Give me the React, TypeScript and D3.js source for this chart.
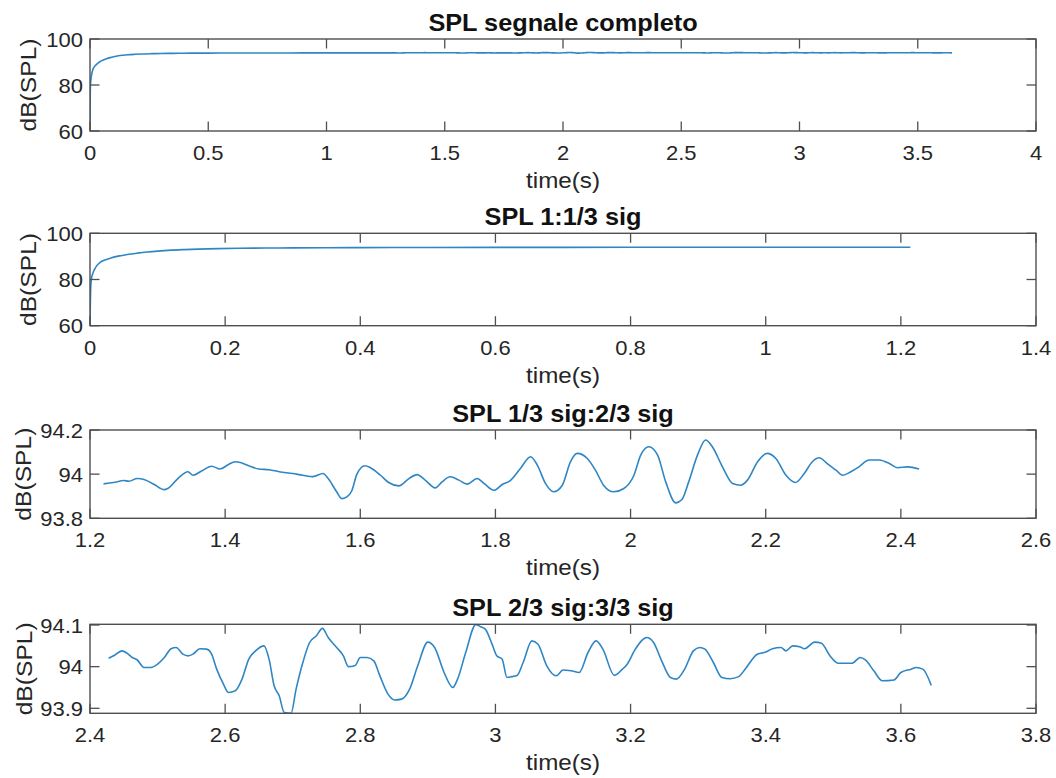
import { useEffect, useRef } from "react";
import * as d3 from "d3";

const firstT = [0, 0.0005, 0.001, 0.002, 0.004, 0.007, 0.01, 0.015, 0.02, 0.03, 0.04, 0.055, 0.07, 0.085, 0.1, 0.12, 0.14, 0.16, 0.19, 0.22, 0.26, 0.3, 0.35, 0.4, 0.45, 0.5, 0.6, 0.7, 0.8, 0.9, 1.0, 1.1, 1.214];
const firstV = [60, 70, 76, 80, 82.5, 84.5, 86, 87.4, 88.2, 89.2, 90, 90.8, 91.4, 91.9, 92.3, 92.7, 92.95, 93.15, 93.35, 93.5, 93.62, 93.7, 93.77, 93.82, 93.85, 93.87, 93.9, 93.92, 93.94, 93.95, 93.96, 93.96, 93.962];

// second third, 1.21 .. 2.43 s (panel 3)
const secondT = [1.22, 1.235, 1.25, 1.2575, 1.27, 1.28, 1.295, 1.31, 1.315, 1.33, 1.345, 1.3525, 1.365, 1.38, 1.3925, 1.405, 1.415, 1.4225, 1.435, 1.45, 1.465, 1.48, 1.5, 1.515, 1.53, 1.545, 1.5525, 1.565, 1.5725, 1.58, 1.5875, 1.595, 1.607, 1.615, 1.63, 1.642, 1.657, 1.672, 1.684, 1.696, 1.711, 1.721, 1.733, 1.746, 1.758, 1.773, 1.783, 1.798, 1.81, 1.822, 1.837, 1.852, 1.862, 1.874, 1.886, 1.899, 1.911, 1.921, 1.936, 1.948, 1.96, 1.975, 1.99, 2.005, 2.015, 2.027, 2.04, 2.052, 2.067, 2.076, 2.086, 2.099, 2.111, 2.121, 2.136, 2.151, 2.163, 2.173, 2.188, 2.202, 2.215, 2.23, 2.244, 2.257, 2.269, 2.279, 2.291, 2.304, 2.314, 2.326, 2.338, 2.353, 2.368, 2.383, 2.395, 2.41, 2.427];
const secondV = [93.956, 93.962, 93.971, 93.968, 93.98, 93.976, 93.953, 93.93, 93.935, 93.98, 94.011, 93.995, 94.014, 94.036, 94.023, 94.044, 94.056, 94.053, 94.038, 94.023, 94.02, 94.011, 94.003, 93.995, 93.989, 94.003, 93.98, 93.92, 93.889, 93.897, 93.925, 94.0, 94.038, 94.029, 93.995, 93.962, 93.947, 93.98, 93.998, 93.973, 93.938, 93.965, 93.988, 93.973, 93.955, 93.98, 93.958, 93.927, 93.953, 93.971, 94.026, 94.079, 94.041, 93.958, 93.92, 93.95, 94.056, 94.094, 94.071, 94.018, 93.95, 93.92, 93.935, 93.995, 94.086, 94.124, 94.086, 93.965, 93.87, 93.885, 93.965, 94.086, 94.155, 94.124, 94.033, 93.958, 93.95, 93.973, 94.056, 94.094, 94.071, 93.995, 93.962, 94.003, 94.056, 94.074, 94.048, 94.018, 93.995, 94.011, 94.033, 94.064, 94.064, 94.048, 94.029, 94.033, 94.023];

// last third, 2.43 .. 3.645 s (panel 4)
const thirdT = [2.4275, 2.435, 2.4475, 2.455, 2.4625, 2.47, 2.48, 2.49, 2.5, 2.51, 2.52, 2.5275, 2.5375, 2.545, 2.5525, 2.5625, 2.5725, 2.58, 2.5875, 2.5975, 2.605, 2.615, 2.625, 2.635, 2.645, 2.6575, 2.665, 2.6725, 2.68, 2.6875, 2.6975, 2.705, 2.715, 2.725, 2.735, 2.744, 2.7525, 2.765, 2.775, 2.7825, 2.7925, 2.8, 2.81, 2.82, 2.829, 2.841, 2.851, 2.861, 2.873, 2.885, 2.9, 2.91, 2.924, 2.937, 2.944, 2.956, 2.971, 2.978, 2.985, 2.995, 3.002, 3.01, 3.017, 3.024, 3.032, 3.041, 3.054, 3.063, 3.076, 3.09, 3.1, 3.112, 3.124, 3.137, 3.149, 3.159, 3.176, 3.188, 3.195, 3.207, 3.224, 3.234, 3.246, 3.259, 3.268, 3.28, 3.293, 3.3025, 3.31, 3.3225, 3.335, 3.3475, 3.36, 3.37, 3.3875, 3.4, 3.41, 3.4225, 3.43, 3.44, 3.45, 3.4575, 3.4725, 3.4825, 3.495, 3.5075, 3.5275, 3.54, 3.5475, 3.56, 3.5725, 3.59, 3.6, 3.615, 3.6225, 3.6325, 3.645];
const thirdV = [94.02, 94.026, 94.038, 94.032, 94.022, 94.016, 93.998, 93.998, 94.006, 94.022, 94.043, 94.046, 94.03, 94.026, 94.03, 94.043, 94.042, 94.03, 93.994, 93.958, 93.938, 93.942, 93.97, 94.018, 94.038, 94.05, 94.018, 93.954, 93.93, 93.89, 93.888, 93.946, 94.01, 94.058, 94.074, 94.092, 94.07, 94.046, 94.026, 94.0, 94.003, 94.022, 94.022, 94.014, 93.978, 93.934, 93.92, 93.922, 93.946, 94.002, 94.059, 94.046, 93.986, 93.95, 93.97, 94.034, 94.101, 94.096, 94.09, 94.054, 94.026, 94.018, 93.974, 93.976, 93.979, 94.01, 94.062, 94.054, 94.002, 93.978, 93.992, 93.99, 93.986, 94.034, 94.062, 94.042, 93.979, 93.994, 94.006, 94.042, 94.07, 94.058, 94.014, 93.974, 93.97, 93.994, 94.038, 94.046, 94.042, 94.01, 93.974, 93.971, 93.976, 93.995, 94.03, 94.035, 94.043, 94.046, 94.038, 94.05, 94.048, 94.043, 94.059, 94.056, 94.026, 94.008, 94.008, 94.022, 94.016, 93.99, 93.966, 93.968, 93.986, 93.994, 93.998, 93.994, 93.955];

const titles = ["SPL segnale completo", "SPL 1:1/3 sig", "SPL 1/3 sig:2/3 sig", "SPL 2/3 sig:3/3 sig"];
const xTicks = [
  [0, 0.5, 1, 1.5, 2, 2.5, 3, 3.5, 4],
  [0, 0.2, 0.4, 0.6, 0.8, 1, 1.2, 1.4],
  [1.2, 1.4, 1.6, 1.8, 2, 2.2, 2.4, 2.6],
  [2.4, 2.6, 2.8, 3, 3.2, 3.4, 3.6, 3.8],
];
const yTicks = [
  [60, 80, 100],
  [60, 80, 100],
  [93.8, 94, 94.2],
  [93.9, 94, 94.1],
];
const xDomains = [[0, 4], [0, 1.4], [1.2, 2.6], [2.4, 3.8]];
const yDomains = [[60, 100], [60, 100], [93.8, 94.2], [93.888, 94.1017]];

const W = 1056;
const H = 778;
const left = 90;
const right = 1036;
const boxes = [
  { top: 39, h: 92, labelX: 35.5 },
  { top: 233.3, h: 92.4, labelX: 35.5 },
  { top: 430, h: 88.3, labelX: 30.5 },
  { top: 624.3, h: 89, labelX: 31.5 },
];

const zip = (ts: number[], vs: number[]) => ts.map((t, i) => ({ t, v: vs[i] }));

export default function App() {
  const svgRef = useRef<SVGSVGElement>(null);

  useEffect(() => {
    const svg = d3.select(svgRef.current);
    svg.selectAll("*").remove();

    const first = zip(firstT, firstV);
    const second = zip(secondT, secondV);
    const third = zip(thirdT, thirdV);
    const series = [first.concat(second, third), first, second, third];

    const font = "'Liberation Sans', Arial, Helvetica, sans-serif";
    const sx = 1.1; // glyphs in the picture are a little wider than Arial
    const tickLen = 9.5;
    const axisCol = "#4f4f4f";
    const textCol = "#262626";

    svg.append("rect").attr("width", W).attr("height", H).attr("fill", "#fff");

    boxes.forEach((b, i) => {
      const x = d3.scaleLinear().domain(xDomains[i]).range([left, right]);
      const y = d3.scaleLinear().domain(yDomains[i]).range([b.top + b.h, b.top]);
      const g = svg.append("g");
      const bottom = b.top + b.h;

      // data line
      const clipId = `clip${i}`;
      g.append("clipPath")
        .attr("id", clipId)
        .append("rect")
        .attr("x", left)
        .attr("y", b.top - 1)
        .attr("width", right - left)
        .attr("height", b.h + 2);

      const line = d3
        .line<{ t: number; v: number }>()
        .x(d => x(d.t))
        .y(d => y(d.v))
        .curve(d3.curveMonotoneX);

      g.append("path")
        .attr("d", line(series[i]))
        .attr("fill", "none")
        .attr("stroke", "#2f86c5")
        .attr("stroke-width", 1.6)
        .attr("stroke-linejoin", "round")
        .attr("clip-path", `url(#${clipId})`);

      // box
      g.append("rect")
        .attr("x", left)
        .attr("y", b.top)
        .attr("width", right - left)
        .attr("height", b.h)
        .attr("fill", "none")
        .attr("stroke", axisCol)
        .attr("stroke-width", 1.4);

      // x ticks, inward on bottom and top
      xTicks[i].forEach(t => {
        const px = x(t);
        g.append("line")
          .attr("x1", px).attr("x2", px)
          .attr("y1", bottom).attr("y2", bottom - tickLen)
          .attr("stroke", axisCol).attr("stroke-width", 1.3);
        g.append("line")
          .attr("x1", px).attr("x2", px)
          .attr("y1", b.top).attr("y2", b.top + tickLen)
          .attr("stroke", axisCol).attr("stroke-width", 1.3);
        g.append("text")
          .attr("transform", `translate(${px},${bottom + 29}) scale(${sx},1)`)
          .attr("text-anchor", "middle")
          .attr("font-family", font)
          .attr("font-size", 20)
          .attr("fill", textCol)
          .text(String(t));
      });

      // y ticks, inward on left and right
      yTicks[i].forEach(v => {
        const py = y(v);
        g.append("line")
          .attr("x1", left).attr("x2", left + tickLen)
          .attr("y1", py).attr("y2", py)
          .attr("stroke", axisCol).attr("stroke-width", 1.3);
        g.append("line")
          .attr("x1", right).attr("x2", right - tickLen)
          .attr("y1", py).attr("y2", py)
          .attr("stroke", axisCol).attr("stroke-width", 1.3);
        g.append("text")
          .attr("transform", `translate(${left - 7},${py + 7.5}) scale(${sx},1)`)
          .attr("text-anchor", "end")
          .attr("font-family", font)
          .attr("font-size", 20)
          .attr("fill", textCol)
          .text(String(v));
      });

      // title
      g.append("text")
        .attr("transform", `translate(${(left + right) / 2},${b.top - 8}) scale(${sx},1)`)
        .attr("text-anchor", "middle")
        .attr("font-family", font)
        .attr("font-size", 23)
        .attr("font-weight", "bold")
        .attr("fill", "#111")
        .text(titles[i]);

      // axis labels
      g.append("text")
        .attr("transform", `translate(${(left + right) / 2},${bottom + 57}) scale(${sx},1)`)
        .attr("text-anchor", "middle")
        .attr("font-family", font)
        .attr("font-size", 22)
        .attr("fill", textCol)
        .text("time(s)");

      g.append("text")
        .attr("transform", `translate(${b.labelX},${b.top + b.h / 2}) rotate(-90) scale(1.12,1)`)
        .attr("text-anchor", "middle")
        .attr("font-family", font)
        .attr("font-size", 22)
        .attr("fill", textCol)
        .text("dB(SPL)");
    });
  }, []);

  return (
    <svg
      ref={svgRef}
      width={W}
      height={H}
      style={{ position: "absolute", left: 0, top: 0 }}
    />
  );
}
